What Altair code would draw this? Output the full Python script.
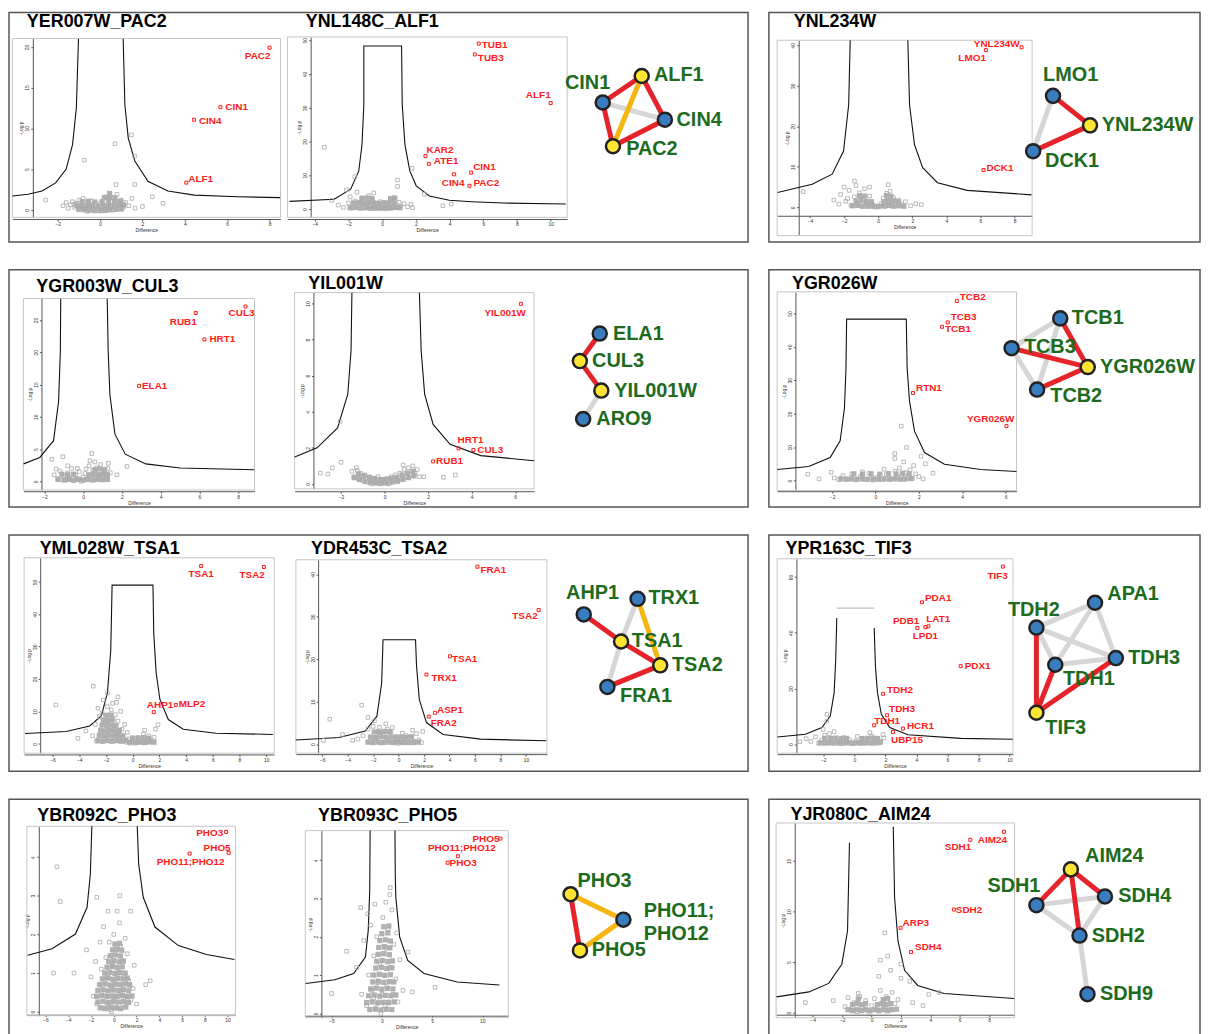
import altair as alt
import pandas as pd

FONT = "Liberation Sans"
RED = "#ff1c1c"
GREEN = "#1d6b1d"
GRAY_PT = "#a9a9a9"
GRAY_CORE = "#b1b1b1"
FILL = {"b": "#3a7cc0", "y": "#ffe533"}
EDGE = {"r": "#e4232b", "o": "#f6b511", "g": "#d6d6d6"}

# ============ volcano values (Difference, -Log p) ============
# --- YER007W_PAC2
A_gray = [(-2.58,1.2),(-1.75,0.5),(-1.6,0.9),(-1.5,0.2),(-1.4,0.6),(-1.3,1.0),(-1.2,0.3),(-1.1,0.8),(-1.0,1.2),(-0.9,0.4),
          (-0.8,1.4),(-0.7,0.1),(-0.6,0.9),(-0.5,0.3),(-0.4,1.1),(-0.3,0.0),(-0.2,0.6),(-0.1,0.2),(0.0,0.8),(0.1,-0.1),
          (0.2,0.5),(0.3,1.6),(0.4,0.2),(0.5,1.0),(0.6,1.5),(0.7,0.4),(0.8,1.9),(0.9,0.7),(1.0,1.2),(1.1,0.3),(1.2,0.9),
          (1.35,0.5),(1.5,1.4),(1.65,0.2),(2.0,0.4),(2.47,1.6),(2.97,0.8),(0.7,8.1),(1.48,9.2),(1.63,6.6),(-0.74,6.1),
          (0.75,3.1),(1.64,3.1),(-1.0,0.0),(-0.8,0.2),(-0.6,-0.2),(-0.3,0.1),(0.0,0.3),(0.3,-0.1),(0.6,0.0),(0.9,0.2),
          (-0.5,0.5),(0.2,0.1),(0.5,0.4),(1.1,0.6),(-1.2,0.7)]
A_core = [(-1.0,0.1),(-0.75,0.0),(-0.5,-0.05),(-0.25,-0.1),(0.0,-0.1),(0.25,-0.05),(0.5,0.0),(0.75,0.05),(1.0,0.1),
          (-1.1,0.55),(-0.85,0.5),(-0.6,0.45),(-0.35,0.5),(-0.1,0.45),(0.15,0.5),(0.4,0.45),(0.65,0.5),(0.9,0.55),(1.1,0.6),
          (-0.85,1.0),(-0.55,1.05),(-0.25,0.95),(0.1,1.0),(0.4,1.05),(0.7,1.0),(0.95,1.05),
          (0.2,1.5),(0.45,1.6),(0.7,1.45),(0.45,2.0)]
A_curve = [[(-4.14,1.7),(-3.4,1.9),(-2.74,2.3),(-2.1,3.3),(-1.6,5.0),(-1.3,8.0),(-1.12,12.5),(-1.02,21.0)],
           [(1.09,21.0),(1.17,12.9),(1.33,8.8),(1.64,6.0),(2.26,3.5),(3.2,2.3),(4.45,1.8),(6.5,1.6),(8.5,1.5)]]
A_hits = [("PAC2",8.0,19.9),("CIN1",5.68,12.6),("CIN4",4.43,11.06),("ALF1",4.07,3.34)]

# --- YNL148C_ALF1
B_gray = [(-3.43,18.3),(1.77,12.1),(0.91,8.6),(0.91,6.7),(-1.62,9.6),(-2.12,5.7),(2.5,4.4),(3.6,1.0),(4.1,1.5),(-3.0,2.6),
          (-2.6,1.2),(-2.3,0.5),(-2.0,1.8),(-1.8,0.3),(-1.6,2.4),(-1.4,1.0),(-1.2,3.2),(-1.0,0.6),(-0.9,1.9),(-0.8,4.0),
          (-0.7,0.2),(-0.6,2.7),(-0.5,1.2),(-0.4,0.1),(-0.3,1.7),(-0.2,0.6),(-0.1,2.2),(0.0,0.3),(0.1,1.0),(0.2,0.1),
          (0.3,1.5),(0.4,0.4),(0.5,2.6),(0.6,0.8),(0.7,3.4),(0.8,1.3),(0.9,0.5),(1.0,2.0),(1.1,0.9),(1.3,1.6),(1.5,0.7),
          (1.7,1.4),(1.8,0.4),(-1.3,1.8),(-0.7,1.0),(-1.9,3.6),(-1.5,5.0),(-0.5,4.8)]
B_core = [(-1.9,0.4),(-1.6,0.5),(-1.3,0.3),(-1.0,0.4),(-0.7,0.3),(-0.4,0.5),(-0.1,0.3),(0.2,0.4),(0.5,0.3),(0.8,0.5),(1.05,0.4),
          (-1.7,1.8),(-1.4,1.9),(-1.1,1.7),(-0.8,1.9),(-0.5,1.8),(-0.2,1.7),(0.1,1.9),(0.4,1.8),(0.7,1.7),
          (-1.2,3.2),(-0.9,3.3),(-0.6,3.1),(0.5,3.1),(0.75,3.2)]
B_curve = [[(-5.5,2.3),(-2.85,2.9),(-1.87,5.9),(-1.39,11.3),(-1.2,19.0),(-1.09,30.9),(-1.09,48.3),(1.15,48.3),(1.19,30.9),
            (1.35,19.1),(1.64,11.3),(2.02,6.9),(2.8,3.9),(3.98,2.6),(5.3,2.2),(7.2,1.8),(10.9,1.5)]]
B_hits = [("TUB1",5.73,49.0),("TUB3",5.5,45.8),("ALF1",10.0,31.4),("KAR2",2.57,15.7),("ATE1",2.77,13.4),
          ("CIN1",5.28,10.8),("CIN4",4.27,10.3),("PAC2",5.18,6.9)]

# --- YNL234W
K_gray = [(-4.4,3.9),(-1.39,6.5),(-2.0,5.0),(2.53,0.7),(-2.6,1.8),(-2.3,0.8),(-2.2,3.2),(-1.9,1.5),(-1.7,4.2),(-1.6,0.5),
          (-1.4,2.6),(-1.2,1.0),(-1.1,3.6),(-1.0,0.3),(-0.9,2.0),(-0.8,4.6),(-0.7,1.2),(-0.6,0.2),(-0.5,2.8),(-0.4,1.5),
          (-0.3,0.6),(-0.2,0.1),(0.0,0.4),(0.2,1.0),(0.3,2.3),(0.4,0.2),(0.5,3.5),(0.6,1.3),(0.7,4.0),(0.8,0.5),(0.9,2.4),
          (1.0,1.0),(1.2,1.8),(1.4,0.7),(1.6,1.4),(1.9,0.4),(2.2,0.9),(-1.3,5.4),(-0.5,5.0),(0.6,5.6),(-1.8,2.2)]
K_core = [(-1.5,0.4),(-1.2,0.5),(-0.9,0.3),(-0.6,0.4),(-0.3,0.3),(0.0,0.2),(0.3,0.4),(0.6,0.5),(0.9,0.3),(1.2,0.4),(1.5,0.3),
          (-1.3,1.6),(-1.0,1.7),(-0.7,1.5),(-0.4,1.3),(0.35,1.4),(0.6,1.7),(0.9,1.6),(1.2,1.4),
          (-1.1,2.9),(-0.8,2.8),(0.5,2.9),(0.75,2.7)]
K_curve = [[(-5.9,3.7),(-3.87,5.7),(-2.7,8.2),(-2.03,13.9),(-1.73,25.3),(-1.64,41.2)],
           [(1.74,41.2),(1.84,25.3),(2.13,15.5),(2.61,9.8),(3.48,6.1),(5.22,4.2),(8.99,3.1)]]
K_hits = [("YNL234W",8.41,39.5),("LMO1",6.32,38.8),("DCK1",6.18,9.2)]

# --- YGR003W_CUL3
C_gray = [(-1.62,3.4),(-1.05,3.8),(0.44,4.3),(2.26,2.3),(1.74,1.0),(-1.4,1.9),(1.27,2.0),(-1.5,1.0),(-1.3,0.4),(-1.2,1.6),
          (-1.0,0.8),(-0.9,0.2),(-0.8,1.3),(-0.7,0.5),(-0.6,2.0),(-0.5,0.1),(-0.4,1.0),(-0.3,0.4),(-0.2,1.5),(-0.1,0.0),
          (0.0,0.7),(0.1,1.2),(0.2,0.3),(0.3,2.4),(0.35,3.2),(0.4,0.9),(0.5,1.7),(0.6,0.4),(0.7,2.1),(0.8,1.0),(0.9,2.6),
          (1.0,0.6),(1.1,1.5),(1.2,0.9),(1.3,2.8),(1.4,1.3),(-0.8,2.4),(-0.3,2.0),(0.15,1.9),(0.6,3.0)]
C_core = [(-1.3,0.3),(-1.0,0.2),(-0.75,0.3),(-0.5,0.2),(-0.25,0.3),(0.0,0.2),(0.25,0.3),(0.5,0.2),(0.75,0.3),(1.0,0.25),(1.25,0.3),
          (-1.1,1.1),(-0.8,1.0),(-0.5,1.1),(0.3,1.0),(0.55,1.1),(0.8,1.0),(1.05,1.1),(1.25,1.0),
          (0.6,1.8),(0.85,1.9),(1.1,1.8)]
C_curve = [[(-3.08,2.7),(-2.24,3.7),(-1.53,6.3),(-1.27,12.4),(-1.18,20.1),(-1.16,28.3)],
           [(1.24,28.3),(1.29,20.1),(1.38,13.4),(1.64,7.3),(2.17,4.2),(3.23,2.7),(5.0,2.05),(8.83,1.8)]]
C_hits = [("RUB1",5.81,26.1),("CUL3",8.38,27.1),("HRT1",6.26,22.0),("ELA1",2.88,14.8)]

# --- YIL001W
D_gray = [(-2.04,3.46),(-2.0,1.2),(-2.4,0.9),(-2.95,0.6),(-2.6,0.55),(2.7,0.37),(3.25,0.5),(1.8,0.4),(-1.5,0.7),(-1.4,0.4),
          (-1.3,0.9),(-1.2,0.3),(-1.1,0.6),(-1.0,0.2),(-0.9,0.5),(-0.8,0.1),(-0.7,0.4),(-0.6,0.0),(-0.5,0.3),(-0.4,0.1),
          (-0.3,0.4),(-0.2,0.0),(-0.1,0.2),(0.0,0.1),(0.1,0.3),(0.2,0.0),(0.3,0.4),(0.4,0.2),(0.5,0.5),(0.6,0.2),(0.7,0.6),
          (0.8,0.3),(0.9,0.8),(1.0,0.4),(1.1,0.9),(1.2,0.5),(1.3,1.0),(1.4,0.6),(1.5,0.8),(1.6,0.4),(-1.25,0.75),(0.85,1.05)]
D_core = [(-1.4,0.35),(-1.15,0.25),(-0.9,0.15),(-0.65,0.1),(-0.4,0.05),(-0.15,0.05),(0.1,0.05),(0.35,0.1),(0.6,0.15),
          (0.85,0.25),(1.1,0.35),(1.35,0.45),(-1.2,0.55),(-0.95,0.45),(-0.7,0.35),(-0.45,0.3),(-0.2,0.25),(0.05,0.25),
          (0.3,0.3),(0.55,0.35),(0.8,0.5),(1.05,0.6),(1.3,0.7)]
D_curve = [[(-4.13,1.5),(-3.1,2.0),(-2.16,3.1),(-1.69,4.97),(-1.54,7.4),(-1.5,10.6)],
           [(1.6,10.6),(1.68,7.4),(1.84,4.97),(2.23,3.3),(3.01,2.2),(4.42,1.57),(6.86,1.29)]]
D_hits = [("YIL001W",6.26,9.98),("HRT1",3.4,1.97),("CUL3",4.08,1.88),("RUB1",2.23,1.25)]

# --- YGR026W
L_gray = [(1.19,16.3),(1.43,9.9),(0.89,8.1),(0.89,6.6),(2.1,7.3),(2.3,5.0),(2.65,2.2),(-3.12,1.9),(-2.04,2.5),(1.76,4.5),
          (-1.9,0.8),(-1.7,0.3),(-1.5,1.5),(-1.3,0.5),(-1.1,2.0),(-0.9,0.2),(-0.7,1.2),(-0.5,0.4),(-0.3,2.2),(-0.1,0.1),
          (0.1,1.0),(0.3,0.3),(0.5,1.8),(0.7,0.6),(0.9,2.8),(1.0,0.9),(1.1,3.8),(1.2,1.5),(1.3,0.4),(1.4,2.4),(1.5,1.0),
          (1.6,3.2),(1.7,0.6),(1.85,2.0),(2.0,1.2),(2.2,0.5),(-2.6,0.5),(0.4,3.4),(-0.6,2.6),(1.3,5.6)]
L_core = [(-1.6,0.5),(-1.35,0.4),(-1.1,0.5),(-0.85,0.4),(-0.6,0.5),(-0.35,0.4),(-0.1,0.5),(0.15,0.4),(0.4,0.5),(0.65,0.4),
          (0.9,0.5),(1.15,0.4),(1.4,0.5),(1.65,0.6),(-1.0,2.0),(-0.6,1.9),(-0.2,2.0),(0.2,1.9),(0.6,2.1),(0.95,2.0),
          (1.25,2.2),(1.55,2.0)]
L_curve = [[(-4.53,3.3),(-3.08,4.2),(-2.09,6.9),(-1.63,11.9),(-1.43,21.7),(-1.36,33.6),(-1.33,48.3),(1.42,48.3),
            (1.46,33.6),(1.57,23.7),(1.8,14.8),(2.26,8.4),(3.18,4.9),(4.85,3.3),(6.5,2.7)]]
L_hits = [("TCB2",3.75,53.7),("TCB3",3.33,47.3),("TCB1",3.07,46.0),("RTN1",1.73,26.2),("YGR026W",6.04,16.3)]

# --- YML028W_TSA1
E_gray = [(-2.95,17.8),(-1.89,15.7),(-1.1,14.5),(-5.75,12.0),(-4.1,1.7),(-2.6,11.0),(-2.5,8.4),(1.9,5.9),(0.9,4.2),(-3.5,4.0),
          (-3.0,2.5),(-2.8,6.0),(-2.4,3.5),(-2.3,9.5),(-2.1,1.5),(-2.0,6.5),(-1.9,11.5),(-1.8,4.0),(-1.7,8.0),(-1.6,2.0),
          (-1.5,12.5),(-1.4,5.5),(-1.3,9.0),(-1.2,3.0),(-1.1,7.0),(-1.0,1.0),(-0.9,10.0),(-0.8,4.5),(-0.7,2.0),(-0.6,6.0),
          (-0.5,0.5),(-0.4,3.5),(-0.3,1.5),(-0.2,0.2),(0.0,1.0),(0.2,0.3),(0.4,2.0),(0.6,0.8),(0.8,3.0),(1.0,0.5),(1.2,2.5),
          (1.4,1.0),(1.6,2.0),(1.7,4.5),(-2.2,13.5),(-1.6,10.5),(-2.7,0.8),(-1.2,12.8)]
E_core = [(-2.6,1.0),(-2.25,0.8),(-1.9,1.0),(-1.55,0.8),(-1.2,1.0),(-0.85,0.8),(-0.5,1.0),
          (-2.5,2.6),(-2.15,2.5),(-1.8,2.7),(-1.45,2.5),(-1.1,2.6),(-0.75,2.5),
          (-2.4,4.2),(-2.05,4.0),(-1.7,4.2),(-1.35,4.0),(-1.0,4.1),
          (-2.3,5.8),(-1.95,5.6),(-1.6,5.8),(-1.25,5.6),
          (-2.2,7.3),(-1.85,7.2),(-1.5,7.4),(-2.0,8.8),(-1.65,8.9),
          (-0.2,0.5),(0.2,0.4),(0.55,0.5),(0.9,0.4),(1.25,0.6),(1.6,0.5),(0.0,1.8),(0.4,1.6),(0.8,1.9),(1.2,1.7)]
E_curve = [[(-8.06,3.2),(-4.98,3.8),(-3.22,5.5),(-2.35,8.6),(-1.89,15.7),(-1.64,29.0),(-1.54,49.0),(1.52,49.0),(1.58,34.1),
            (1.76,21.9),(2.04,13.7),(2.67,7.5),(3.79,4.5),(6.25,3.25),(10.5,2.9)]]
E_hits = [("TSA1",5.13,54.9),("TSA2",9.83,54.6),("AHP1",1.58,9.8),("MLP2",3.23,12.0)]

# --- YDR453C_TSA2
F_gray = [(-2.9,9.2),(-5.4,5.9),(-4.4,2.3),(-2.4,6.3),(-2.4,3.6),(1.9,3.0),(-3.2,1.2),(-2.8,2.0),(-2.2,0.6),(-2.0,4.2),
          (-1.8,1.5),(-1.6,3.0),(-1.4,0.3),(-1.2,2.2),(-1.0,4.8),(-0.8,1.0),(-0.6,2.8),(-0.4,0.5),(-0.2,1.8),(0.0,0.2),
          (0.2,1.2),(0.4,0.6),(0.6,2.0),(0.8,0.3),(1.0,1.4),(1.2,0.7),(1.4,2.5),(1.6,1.0),(1.8,0.4),(-1.9,5.5),(-1.5,4.0),
          (-0.9,3.5),(-0.5,3.9),(0.3,2.6),(1.1,3.3),(-5.9,0.9),(-3.6,0.9)]
F_core = [(-2.4,0.5),(-2.0,0.4),(-1.6,0.5),(-1.2,0.4),(-0.8,0.5),(-0.4,0.4),(0.0,0.5),(0.4,0.4),(0.8,0.5),(1.2,0.4),(1.55,0.5),
          (-2.2,1.7),(-1.8,1.6),(-1.4,1.8),(-1.0,1.6),(-0.6,1.7),(-0.2,1.6),(0.2,1.7),(0.6,1.6),(1.0,1.8),
          (-1.9,2.9),(-1.5,2.8),(-1.1,3.0),(-0.7,2.9)]
F_curve = [[(-8.07,1.0),(-4.67,1.6),(-2.62,3.1),(-1.7,6.6),(-1.33,14.4),(-1.22,24.6),(1.33,24.6),(1.41,18.4),(1.63,10.5),
            (2.19,5.1),(3.49,2.3),(6.44,1.2),(11.6,0.8)]]
F_hits = [("FRA1",6.19,41.8),("TSA2",11.0,31.6),("TSA1",4.04,20.7),("TRX1",2.19,16.4),("ASP1",2.86,7.4),("FRA2",2.37,6.5)]

# --- YPR163C_TIF3
G_gray = [(-1.77,10.7),(-1.77,8.3),(1.85,3.5),(1.9,2.2),(-3.1,2.0),(-2.8,1.0),(-2.5,2.6),(-2.3,0.4),(-2.1,1.6),(-1.9,3.2),
          (-1.7,0.6),(-1.5,2.0),(-1.3,4.5),(-1.1,1.0),(-0.9,0.2),(-0.7,2.4),(-0.5,0.8),(-0.3,1.6),(-0.1,0.2),(0.1,1.2),
          (0.3,0.4),(0.5,2.0),(0.7,0.6),(0.9,1.4),(1.1,3.0),(1.3,0.8),(1.5,2.2),(1.7,1.0),(-2.0,5.3),(-1.6,3.8),(0.2,2.8),
          (1.0,4.2),(-3.5,0.9)]
G_core = [(-2.2,0.5),(-1.9,0.4),(-1.6,0.5),(-1.3,0.4),(-1.0,0.5),(-0.7,0.4),(-0.4,0.5),(-0.1,0.4),(0.2,0.5),(0.5,0.4),
          (0.8,0.5),(1.1,0.4),(1.4,0.5),(1.65,0.6),(-1.9,2.1),(-1.55,2.0),(-1.2,2.2),(-0.85,2.0),(-0.5,2.1),(0.5,2.0),
          (0.85,2.1),(1.2,2.2),(1.5,2.0)]
G_curve = [[(-4.96,2.6),(-3.15,3.6),(-2.09,6.0),(-1.55,10.1),(-1.3,18.5),(-1.2,30.2),(-1.13,45.3)],
           [(1.28,41.7),(1.36,28.0),(1.49,18.5),(1.74,10.7),(2.28,6.0),(3.45,3.4),(6.85,2.1),(10.2,1.8)]]
G_cap = [[(-1.13,48.8),(1.28,48.8)]]
G_hits = [("TIF3",9.57,63.7),("PDA1",4.36,50.9),("PDB1",4.06,41.7),("LAT1",4.77,42.3),("LPD1",4.58,42.0),
          ("PDX1",6.85,28.0),("TDH2",1.85,18.1),("TDH3",2.11,10.4),("TDH1",1.28,6.8),("HCR1",3.13,5.6),("UBP15",2.49,4.4)]

# --- YBR092C_PHO3
H_gray = [(-5.0,3.75),(-4.7,2.85),(-1.5,2.96),(0.53,3.0),(-0.5,2.6),(1.48,2.6),(-5.3,1.0),(-3.5,1.0),(2.8,0.7),(3.2,0.8),
          (-2.0,0.9),(-1.8,0.4),(-1.5,0.2),(-1.3,0.7),(-1.1,1.1),(-1.0,0.1),(-0.8,0.5),(-0.7,1.4),(-0.6,0.2),(-0.5,0.9),
          (-0.4,1.8),(-0.3,0.05),(-0.2,0.6),(-0.1,1.2),(0.0,0.3),(0.0,2.0),(0.1,0.8),(0.2,1.6),(0.3,0.1),(0.4,1.0),
          (0.5,2.3),(0.6,0.5),(0.7,1.3),(0.8,0.2),(0.9,0.9),(1.0,1.9),(1.1,0.4),(1.3,0.8),(1.5,0.3),(1.7,0.6),(2.0,0.2),
          (-1.6,1.3),(-0.9,2.2),(0.3,2.6),(1.2,1.5),(-0.2,0.0),(0.2,0.4),(-0.5,0.4),(0.6,1.7),(-1.2,1.8),(-2.4,1.6),(1.8,1.2)]
H_core = [(-1.2,0.1),(-0.75,0.08),(-0.3,0.12),(0.15,0.1),(0.6,0.08),(1.05,0.12),
          (-1.4,0.25),(-0.95,0.27),(-0.5,0.24),(-0.05,0.26),(0.4,0.25),(0.85,0.27),(1.3,0.24),
          (-1.5,0.4),(-1.05,0.42),(-0.6,0.39),(-0.15,0.41),(0.3,0.4),(0.75,0.42),(1.2,0.39),(1.6,0.41),
          (-1.4,0.55),(-0.95,0.57),(-0.5,0.54),(-0.05,0.56),(0.4,0.55),(0.85,0.57),(1.3,0.54),
          (-1.2,0.7),(-0.75,0.72),(-0.3,0.69),(0.15,0.71),(0.6,0.7),(1.05,0.72),(1.4,0.69),
          (-1.0,0.85),(-0.55,0.87),(-0.1,0.84),(0.35,0.86),(0.8,0.85),(1.2,0.87),
          (-0.8,1.0),(-0.35,1.02),(0.1,0.99),(0.55,1.01),(1.0,1.0),
          (-0.6,1.15),(-0.15,1.17),(0.3,1.14),(0.75,1.16),
          (-0.45,1.3),(0.0,1.32),(0.45,1.29),(0.85,1.31),
          (-0.3,1.45),(0.15,1.47),(0.6,1.44),(-0.1,1.6),(0.35,1.62),(0.7,1.59),(0.1,1.75),(0.5,1.77)]
H_curve = [[(-7.57,1.46),(-5.43,1.63),(-3.37,2.01),(-2.35,2.7),(-2.06,3.56),(-1.93,4.8)],
           [(2.06,4.8),(2.19,3.81),(2.59,2.96),(3.62,2.19),(5.68,1.71),(8.15,1.48),(10.6,1.35)]]
H_hits = [("PHO3",9.88,4.65),("PHO5",10.1,4.11),("PHO11;PHO12",6.67,4.09)]

# --- YBR093C_PHO5
I_gray = [(0.84,3.28),(0.8,3.1),(-2.1,2.76),(-0.7,2.85),(-3.5,1.62),(-5.0,0.52),(3.04,0.56),(2.6,1.6),(5.3,0.68),(-2.5,1.2),
          (-2.0,0.5),(-1.8,1.9),(-1.5,0.2),(-1.3,1.0),(-1.1,2.3),(-1.0,0.6),(-0.8,1.5),(-0.6,0.1),(-0.5,2.0),(-0.4,0.8),
          (-0.2,1.3),(-0.1,0.0),(0.0,0.5),(0.1,2.5),(0.2,1.0),(0.3,0.2),(0.4,1.7),(0.5,0.7),(0.6,2.2),(0.7,0.3),(0.8,1.2),
          (1.0,2.7),(1.1,0.5),(1.2,1.8),(1.4,0.9),(1.6,0.3),(1.8,1.4),(2.1,0.6),(-1.4,2.6),(0.4,2.9),(-0.3,0.3),(0.2,0.1),
          (-0.8,0.4),(1.5,2.1)]
I_core = [(-1.2,0.1),(-0.65,0.12),(-0.1,0.09),(0.45,0.11),(1.0,0.1),
          (-1.5,0.28),(-0.95,0.3),(-0.4,0.27),(0.15,0.29),(0.7,0.28),(1.25,0.3),
          (-1.3,0.46),(-0.75,0.48),(-0.2,0.45),(0.35,0.47),(0.9,0.46),(1.4,0.48),
          (-1.1,0.64),(-0.55,0.66),(0.0,0.63),(0.55,0.65),(1.1,0.64),
          (-0.9,0.82),(-0.35,0.84),(0.2,0.81),(0.75,0.83),(1.2,0.82),
          (-0.8,1.0),(-0.25,1.02),(0.3,0.99),(0.85,1.01),
          (-0.6,1.18),(-0.05,1.2),(0.5,1.17),(1.0,1.19),
          (-0.5,1.36),(0.05,1.38),(0.6,1.35),(1.05,1.37),
          (-0.35,1.54),(0.2,1.56),(0.75,1.53),(-0.3,1.72),(0.25,1.74),(0.8,1.71),
          (-0.2,1.9),(0.35,1.92),(0.85,1.89),(0.0,2.08),(0.6,2.1),(0.2,2.26),(0.7,2.28)]
I_curve = [[(-7.57,0.78),(-4.67,0.88),(-2.8,1.04),(-1.63,1.47),(-1.35,2.16),(-1.2,3.2),(-1.16,4.77)],
           [(1.31,4.77),(1.34,3.6),(1.4,3.02),(1.78,1.99),(2.58,1.38),(4.2,1.04),(7.5,0.82),(11.7,0.74)]]
I_hits = [("PHO5",11.8,4.56),("PHO11;PHO12",7.57,4.1),("PHO3",6.55,3.93)]

# --- YJR080C_AIM24
J_gray = [(0.9,7.9),(1.1,5.6),(0.6,5.2),(2.0,4.8),(2.0,3.4),(2.6,3.1),(4.6,2.0),(3.9,1.8),(-4.5,1.0),(-2.6,1.2),(2.8,1.0),
          (3.5,0.7),(-1.8,0.6),(-1.6,1.5),(-1.4,0.3),(-1.2,1.0),(-1.0,0.1),(-0.8,1.6),(-0.6,0.5),(-0.4,1.2),(-0.2,0.0),
          (0.0,0.7),(0.2,1.4),(0.4,0.3),(0.6,2.2),(0.8,0.8),(1.0,1.6),(1.2,0.4),(1.4,2.0),(1.6,0.9),(1.8,1.3),(0.5,3.6),
          (1.3,4.2),(-0.9,1.9)]
J_core = [(-1.6,0.3),(-1.3,0.2),(-1.0,0.3),(-0.7,0.2),(-0.4,0.3),(-0.1,0.2),(0.2,0.3),(0.5,0.2),(0.8,0.3),(1.1,0.2),
          (1.4,0.3),(1.7,0.35),(-1.3,0.8),(-1.0,0.9),(-0.7,0.8),(-0.4,0.9),(0.4,0.8),(0.7,0.9),(1.0,0.8),(1.3,0.9),
          (-0.9,1.35),(0.8,1.3),(1.1,1.4)]
J_curve = [[(-6.46,1.57),(-4.26,2.06),(-2.91,2.9),(-2.02,4.8),(-1.63,8.1),(-1.5,16.8)],
           [(1.48,18.4),(1.57,11.4),(1.8,7.1),(2.25,4.2),(3.14,2.7),(4.93,1.9),(9.7,1.4)]]
J_hits = [("AIM24",9.01,17.9),("SDH1",6.72,17.1),("SDH2",5.6,10.2),("ARP3",1.98,8.4),("SDH4",2.69,6.0)]

TITLES = {"A": "YER007W_PAC2", "B": "YNL148C_ALF1", "K": "YNL234W", "C": "YGR003W_CUL3", "D": "YIL001W",
          "L": "YGR026W", "E": "YML028W_TSA1", "F": "YDR453C_TSA2", "G": "YPR163C_TIF3",
          "H": "YBR092C_PHO3", "I": "YBR093C_PHO5", "J": "YJR080C_AIM24"}

VALUES = {
    "A": dict(gray=A_gray, core=A_core, curve=A_curve, hits=A_hits),
    "B": dict(gray=B_gray, core=B_core, curve=B_curve, hits=B_hits),
    "K": dict(gray=K_gray, core=K_core, curve=K_curve, hits=K_hits),
    "C": dict(gray=C_gray, core=C_core, curve=C_curve, hits=C_hits),
    "D": dict(gray=D_gray, core=D_core, curve=D_curve, hits=D_hits),
    "L": dict(gray=L_gray, core=L_core, curve=L_curve, hits=L_hits),
    "E": dict(gray=E_gray, core=E_core, curve=E_curve, hits=E_hits),
    "F": dict(gray=F_gray, core=F_core, curve=F_curve, hits=F_hits),
    "G": dict(gray=G_gray, core=G_core, curve=G_curve, hits=G_hits, cap=G_cap),
    "H": dict(gray=H_gray, core=H_core, curve=H_curve, hits=H_hits),
    "I": dict(gray=I_gray, core=I_core, curve=I_curve, hits=I_hits),
    "J": dict(gray=J_gray, core=J_core, curve=J_curve, hits=J_hits),
}

# ============ network values ============
NET_NODES = {
    "N1": [("CIN1",605.7,102.7,"b"),("ALF1",645,76,"y"),("CIN4",668.3,120,"b"),("PAC2",616,146.7,"y")],
    "N2": [("LMO1",1057,96,"b"),("YNL234W",1094.3,125.7,"y"),("DCK1",1037,151.7,"b")],
    "N3": [("ELA1",602.7,333.3,"b"),("CUL3",582.7,361,"y"),("YIL001W",604.3,390.7,"y"),("ARO9",586,419.3,"b")],
    "N4": [("TCB1",1064.3,318,"b"),("TCB3",1015.3,348,"b"),("YGR026W",1092,367,"y"),("TCB2",1041,389.7,"b")],
    "N5": [("AHP1",586.6,614,"b"),("TRX1",640.8,598.3,"b"),("TSA1",624.2,641.3,"y"),("TSA2",663.6,665.3,"y"),("FRA1",610.4,687,"b")],
    "N6": [("APA1",1099.3,602.3,"b"),("TDH2",1040.3,627.3,"b"),("TDH1",1059.3,664.7,"b"),("TDH3",1120.3,658,"b"),("TIF3",1040.3,713,"y")],
    "N7": [("PHO3",573.3,893.7,"y"),("PHO11;PHO12",626.5,919.3,"b"),("PHO5",582.8,950.3,"y")],
    "N8": [("AIM24",1075,868.7,"y"),("SDH1",1040.3,904.7,"b"),("SDH4",1109.3,896,"b"),("SDH2",1083.7,935.3,"b"),("SDH9",1091.7,994.3,"b")],
}
NET_EDGES = {
    "N1": [("CIN1","CIN4","g"),("CIN1","ALF1","r"),("ALF1","CIN4","r"),("CIN4","PAC2","r"),("PAC2","CIN1","r"),("ALF1","PAC2","o")],
    "N2": [("LMO1","DCK1","g"),("LMO1","YNL234W","r"),("YNL234W","DCK1","r")],
    "N3": [("YIL001W","ARO9","g"),("ELA1","CUL3","r"),("CUL3","YIL001W","r")],
    "N4": [("TCB1","TCB3","g"),("TCB3","TCB2","g"),("TCB1","TCB2","g"),("TCB1","YGR026W","r"),("TCB3","YGR026W","r"),("TCB2","YGR026W","r")],
    "N5": [("TRX1","TSA1","g"),("TSA1","FRA1","g"),("AHP1","TSA1","r"),("TSA1","TSA2","r"),("TSA2","FRA1","r"),("TRX1","TSA2","o")],
    "N6": [("TDH2","APA1","g"),("TDH2","TDH1","g"),("TDH2","TDH3","g"),("APA1","TDH1","g"),("APA1","TDH3","g"),("TDH1","TDH3","g"),
           ("TIF3","TDH2","r"),("TIF3","TDH1","r"),("TIF3","TDH3","r")],
    "N7": [("PHO3","PHO5","r"),("PHO3","PHO11;PHO12","o"),("PHO5","PHO11;PHO12","o")],
    "N8": [("SDH1","SDH4","g"),("SDH1","SDH2","g"),("SDH4","SDH2","g"),("SDH2","SDH9","g"),("AIM24","SDH1","r"),("AIM24","SDH4","r"),("AIM24","SDH2","r")],
}

# ============ layout (pixel placement, not data) ============
NET_LABELS = {
    "N1": [("CIN1",613.3,83.3,"right"),("ALF1",657.3,75,"left"),("CIN4",680,120,"left"),("PAC2",629.3,150,"left")],
    "N2": [("LMO1",1047,75,"left"),("YNL234W",1106,125.7,"left"),("DCK1",1049,161.7,"left")],
    "N3": [("ELA1",616,333.3,"left"),("CUL3",595,361,"left"),("YIL001W",617.3,390.7,"left"),("ARO9",599.3,419.3,"left")],
    "N4": [("TCB1",1076,318,"left"),("TCB3",1027.7,347,"left"),("YGR026W",1104.3,367,"left"),("TCB2",1054.3,396.3,"left")],
    "N5": [("AHP1",595.5,593,"center"),("TRX1",651.7,597.3,"left"),("TSA1",635,641.3,"left"),("TSA2",675.4,665.3,"left"),("FRA1",623.2,696.3,"left")],
    "N6": [("APA1",1111.7,593.7,"left"),("TDH2",1037.7,609.7,"center"),("TDH3",1132.7,658,"left"),("TDH1",1067,679,"left"),("TIF3",1049.3,728,"left")],
    "N7": [("PHO3",580.4,880.3,"left"),("PHO11;",647,910.3,"left"),("PHO12",647,933.7,"left"),("PHO5",594.7,950.3,"left")],
    "N8": [("AIM24",1089.3,855.3,"left"),("SDH1",1044.3,885.3,"right"),("SDH4",1122.7,896,"left"),("SDH2",1096,935.3,"left"),("SDH9",1104.3,994.3,"left")],
}

LABEL_POS = {
    "A": [("right",1,8),("left",5,0),("left",5,1),("left",2,-4)],
    "B": [("left",3,1),("left",3,4),("right",0,-8),("left",1,-6),("left",5,-3),("left",2,-6),("center",-1,9),("left",4,-3)],
    "K": [("right",-2,-3),("right",0,8),("left",3,-2)],
    "C": [("right",1,9),("center",-4,7),("left",5,0),("left",3,0)],
    "D": [("right",5,9),("left",-1,-8),("left",4,0),("left",3,0)],
    "L": [("left",3,-4),("left",3,-5),("left",3,2),("left",3,-5),("right",8,-7)],
    "E": [("center",0,8),("right",1,8),("left",-7,-7),("left",3,-1)],
    "F": [("left",3,3),("right",-1,6),("left",2,3),("left",5,3),("left",2,-3),("left",2,6)],
    "G": [("right",5,9),("left",3,-4),("right",2,-7),("center",10,-7),("center",0,9),("left",4,0),("left",4,-4),
          ("left",2,-6),("left",0,-4),("left",4,-3),("left",-2,8)],
    "H": [("right",-3,1),("right",2,-5),("center",1,8)],
    "I": [("right",-1,0),("center",4,-8),("left",2,0)],
    "J": [("right",3,8),("right",1,7),("left",2,0),("left",2,-5),("left",4,-5)],
}

GEOM = {
    "A": dict(box=(11.3,38.3,281.3,218.3), xref=(0,99.7,8,270.3), yref=(0,210.7,20,46.7), yax=32, xax=220,
              xt=[-2,0,2,4,6,8], yt=[0,5,10,15,20], title=(26,26.7)),
    "B": dict(box=(288.3,36.7,570,218.3), xref=(0,383.7,10,553.3), yref=(0,210,50,40), yax=311.7, xax=220,
              xt=[-4,-2,0,2,4,6,8,10], yt=[0,10,20,30,40,50], title=(306.7,26.7)),
    "K": dict(box=(779.3,40,1036,236.7), xref=(0,881,8,1018.3), yref=(0,208.3,40,45), yax=801, xax=216.7,
              xt=[-4,-2,0,2,4,6,8], yt=[0,10,20,30,40], title=(796,26.7)),
    "C": dict(box=(22.5,298,255.2,490.7), xref=(0,82.7,8,238.7), yref=(0,482,25,319.7), yax=40.7, xax=492,
              xt=[-2,0,2,4,6,8], yt=[0,5,10,15,20,25], title=(35.5,291.3)),
    "D": dict(box=(295.5,292,536.6,489.7), xref=(0,386.1,6,517.6), yref=(0,484.7,10,303), yax=314.5, xax=492,
              xt=[-2,0,2,4,6], yt=[0,2,4,6,8,10], title=(309.3,288)),
    "L": dict(box=(779.3,291.3,1020.3,491.3), xref=(0,878.3,6,1009.3), yref=(0,481.3,50,313), yax=797.7, xax=492,
              xt=[-2,0,2,4,6], yt=[0,10,20,30,40,50], title=(794.3,288)),
    "E": dict(box=(23.2,557,275,753.7), xref=(0,132.5,10,266.9), yref=(0,744.3,50,581.3), yax=39.4, xax=755,
              xt=[-6,-4,-2,0,2,4,6,8,10], yt=[0,10,20,30,40,50], title=(38.9,553.7)),
    "F": dict(box=(296.8,559,549.6,753.7), xref=(0,400.2,10,528.4), yref=(0,744.7,40,573.7), yax=319.2, xax=754.7,
              xt=[-6,-4,-2,0,2,4,6,8,10], yt=[0,10,20,30,40], title=(312,553.7)),
    "G": dict(box=(779.3,558,1016.7,753.7), xref=(0,857,10,1013.3), yref=(0,744.7,60,576.3), yax=798.7, xax=754.7,
              xt=[-2,0,2,4,6,8,10], yt=[0,20,40,60], title=(787.7,553.7)),
    "H": dict(box=(26,825.3,236,1016), xref=(0,113.5,10,228), yref=(0,1012,4,856.3), yax=38, xax=1015,
              xt=[-6,-4,-2,0,2,4,6,8,10], yt=[0,1,2,3,4], title=(36.5,820.3)),
    "I": dict(box=(306.3,829.7,510.6,1018), xref=(0,383.3,10,484.5), yref=(0,1013.7,4,859.3), yax=322.5, xax=1016,
              xt=[-5,0,5,10], yt=[0,1,2,3,4], title=(319.2,820.3)),
    "J": dict(box=(778.3,822,1018.3,1018), xref=(0,874.3,8,992.7), yref=(0,1013,15,860.3), yax=797, xax=1015,
              xt=[-4,-2,0,2,4,6,8], yt=[0,5,10,15], title=(792.7,818.7)),
}

AX = dict(labelFontSize=5, labelFont=FONT, labelColor="#333333", tickSize=2, tickColor="#555555",
          domainColor="#555555", grid=False, titleFontSize=5, titleFont=FONT, titleFontWeight="normal",
          titleColor="#333333", labelPadding=1, titlePadding=1, labelFlush=False, labelOverlap=False)


def one():
    return pd.DataFrame({"k": [0]})


def volcano(key, x0, y0, H):
    g = GEOM[key]
    v1, p1, v2, p2 = g["xref"]
    kx = (p2 - p1) / (v2 - v1)
    w1, q1, w2, q2 = g["yref"]
    ky = (q2 - q1) / (w2 - w1)
    L, T, R, B = g["box"]
    xs = alt.Scale(domain=[v1 + (L - p1) / kx, v1 + (R - p1) / kx], range=[L - x0, R - x0], nice=False, zero=False)
    ys = alt.Scale(domain=[w1 + (B - q1) / ky, w1 + (T - q1) / ky], range=[B - y0, T - y0], nice=False, zero=False)
    xax = alt.Axis(orient="bottom", offset=round(g["xax"] - y0 - H, 1), values=g["xt"], title="Difference", **AX)
    yax = alt.Axis(orient="left", offset=-round(g["yax"] - x0, 1), values=g["yt"], title="-Log p",
                   labelAngle=270, labelAlign="center", labelBaseline="bottom", **AX)

    def X():
        return alt.X("x:Q", scale=xs, axis=xax)

    def Y():
        return alt.Y("y:Q", scale=ys, axis=yax)

    v = VALUES[key]
    rows = []
    for bi, br in enumerate(v["curve"]):
        for i, (x, y) in enumerate(br):
            rows.append({"x": x, "y": y, "b": f"c{bi}", "i": i, "c": "#111111"})
    for bi, br in enumerate(v.get("cap", [])):
        for i, (x, y) in enumerate(br):
            rows.append({"x": x, "y": y, "b": f"t{bi}", "i": i, "c": "#bdbdbd"})
    layers = [
        alt.Chart(pd.DataFrame(rows)).mark_line(strokeWidth=1.1).encode(
            x=X(), y=Y(), detail="b:N", order="i:Q", color=alt.Color("c:N", scale=None)),
        alt.Chart(pd.DataFrame(v["core"], columns=["x", "y"])).mark_point(
            shape="square", size=28, filled=True, color=GRAY_CORE, opacity=1).encode(x=X(), y=Y()),
        alt.Chart(pd.DataFrame(v["gray"], columns=["x", "y"])).mark_point(
            shape="square", size=13, strokeWidth=0.8, color=GRAY_PT, opacity=1, filled=False).encode(x=X(), y=Y()),
        alt.Chart(pd.DataFrame(v["hits"], columns=["t", "x", "y"])).mark_point(
            shape="square", size=9, strokeWidth=1, color=RED, opacity=1, filled=False).encode(x=X(), y=Y()),
    ]
    for (t, x, y), (al, dx, dy) in zip(v["hits"], LABEL_POS[key]):
        layers.append(
            alt.Chart(pd.DataFrame({"x": [x], "y": [y], "t": [t]})).mark_text(
                align=al, baseline="middle", dx=dx, dy=dy, font=FONT, fontSize=10, fontWeight="bold", color=RED
            ).encode(x=X(), y=Y(), text="t:N"))
    return alt.layer(*layers)


def box(key, x0, y0):
    L, T, R, B = GEOM[key]["box"]
    return alt.Chart(one()).mark_rect(fill="transparent", stroke="#c6c6c6", strokeWidth=1).encode(
        x=alt.value(L - x0), x2=alt.value(R - x0), y=alt.value(T - y0), y2=alt.value(B - y0))


def title(key, x0, y0):
    tx, ty = GEOM[key]["title"]
    return alt.Chart(one()).mark_text(align="left", baseline="alphabetic", font=FONT, fontSize=18,
                                      fontWeight="bold", color="black").encode(
        x=alt.value(tx - x0), y=alt.value(ty - y0), text=alt.value(TITLES[key]))


def network(key, x0, y0, W, H):
    xs = alt.Scale(domain=[0, W], range=[0, W], nice=False, zero=False)
    ys = alt.Scale(domain=[0, H], range=[0, H], nice=False, zero=False)
    pos = {n: (x - x0, y - y0) for n, x, y, c in NET_NODES[key]}
    er = []
    for a, b, t in sorted(NET_EDGES[key], key=lambda e: 0 if e[2] == "g" else 1):
        er.append({"x": pos[a][0], "y": pos[a][1], "x2": pos[b][0], "y2": pos[b][1], "c": EDGE[t]})
    nd = pd.DataFrame([{"x": x - x0, "y": y - y0, "c": FILL[c]} for n, x, y, c in NET_NODES[key]])
    X = alt.X("x:Q", scale=xs, axis=None)
    Y = alt.Y("y:Q", scale=ys, axis=None)
    layers = [
        alt.Chart(pd.DataFrame(er)).mark_rule(strokeWidth=5).encode(
            x=X, y=Y, x2="x2:Q", y2="y2:Q", color=alt.Color("c:N", scale=None)),
        alt.Chart(nd).mark_point(shape="circle", filled=True, size=200, stroke="#222222", strokeWidth=2.5,
                                 opacity=1).encode(x=X, y=Y, fill=alt.Fill("c:N", scale=None)),
    ]
    for al in ["left", "right", "center"]:
        lab = [{"x": x - x0, "y": y - y0, "t": t} for t, x, y, a in NET_LABELS[key] if a == al]
        if lab:
            layers.append(alt.Chart(pd.DataFrame(lab)).mark_text(
                align=al, baseline="middle", font=FONT, fontSize=20, fontWeight="bold", color=GREEN
            ).encode(x=X, y=Y, text="t:N"))
    return alt.layer(*layers)


def panel(vkeys, nkey, x0, y0, W, H):
    layers = [box(k, x0, y0) for k in vkeys]
    for k in vkeys:
        layers.append(volcano(k, x0, y0, H))
        layers.append(title(k, x0, y0))
    layers.append(network(nkey, x0, y0, W, H))
    return alt.layer(*layers).resolve_scale(x="independent", y="independent").resolve_axis(
        x="independent", y="independent").properties(width=W, height=H)


ROWS = [
    (["A", "B"], "N1", ["K"], "N2", 12, 231),
    (["C", "D"], "N3", ["L"], "N4", 269, 239),
    (["E", "F"], "N5", ["G"], "N6", 534, 238),
    (["H", "I"], "N7", ["J"], "N8", 798, 238),
]

rows = []
for lk, ln, rk, rn, y0, H in ROWS:
    left = panel(lk, ln, 8, y0, 744, H)
    right = panel(rk, rn, 771, y0, 434, H)
    rows.append(alt.hconcat(left, right, spacing=19))

chart = alt.vconcat(*rows, spacing=26).properties(padding=0, background="white").configure_view(
    stroke="#555555", strokeWidth=1.5)

chart.save("out.html", embed_options={"renderer": "svg", "actions": False})
